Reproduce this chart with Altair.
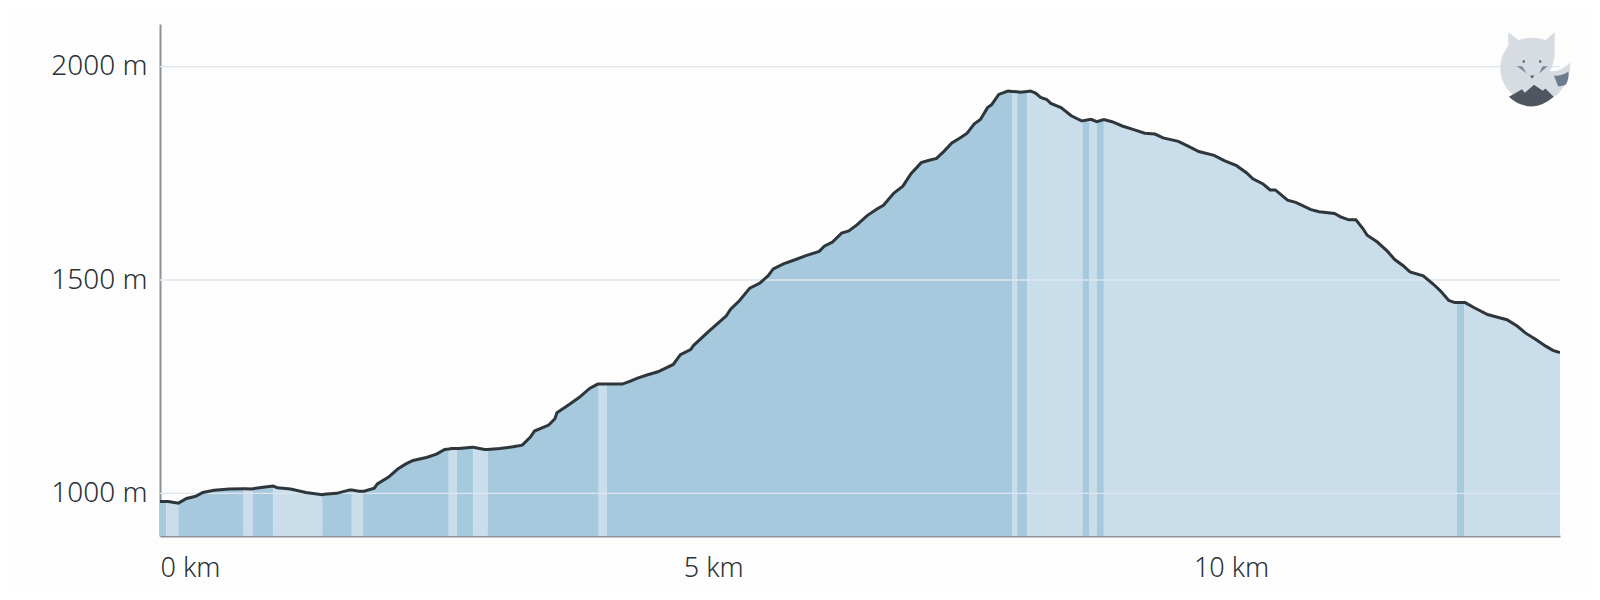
import altair as alt
import pandas as pd

dist_km = [0.00, 0.06, 0.08, 0.18, 0.26, 0.35, 0.42, 0.53, 0.68, 0.82, 0.83, 0.90, 0.91, 1.01, 1.11, 1.15, 1.28, 1.43, 1.59, 1.61,
           1.73, 1.86, 1.88, 1.95, 1.99, 2.00, 2.10, 2.13, 2.24, 2.33, 2.41, 2.48, 2.61, 2.71, 2.79, 2.83, 2.86, 2.91, 2.93, 3.06,
           3.07, 3.18, 3.21, 3.33, 3.46, 3.55, 3.63, 3.67, 3.81, 3.87, 3.89, 4.01, 4.11, 4.21, 4.29, 4.30, 4.38, 4.53, 4.61, 4.68,
           4.78, 4.88, 5.03, 5.10, 5.20, 5.23, 5.38, 5.55, 5.59, 5.68, 5.78, 5.88, 5.96, 6.01, 6.11, 6.23, 6.33, 6.46, 6.51, 6.59,
           6.68, 6.75, 6.83, 6.93, 7.03, 7.09, 7.19, 7.28, 7.36, 7.46, 7.53, 7.61, 7.68, 7.76, 7.84, 7.91, 7.98, 8.04, 8.11, 8.15,
           8.22, 8.31, 8.35, 8.40, 8.43, 8.50, 8.53, 8.58, 8.63, 8.69, 8.73, 8.83, 8.93, 9.03, 9.04, 9.11, 9.13, 9.18, 9.25, 9.33,
           9.43, 9.55, 9.65, 9.75, 9.83, 9.98, 10.08, 10.18, 10.33, 10.43, 10.55, 10.65, 10.71, 10.81, 10.88, 10.93, 11.05, 11.13, 11.28, 11.36,
           11.51, 11.57, 11.65, 11.72, 11.79, 11.83, 11.93, 12.03, 12.10, 12.18, 12.25, 12.38, 12.48, 12.55, 12.63, 12.69, 12.71, 12.78, 12.79, 12.88,
           13.01, 13.09, 13.20, 13.30, 13.38, 13.48, 13.58, 13.65, 13.72]
elev_m = [981, 981, 981, 977, 988, 993, 1002, 1007, 1010, 1011, 1011, 1010, 1011, 1014, 1017, 1013, 1010, 1002, 997, 998,
          1000, 1008, 1008, 1005, 1005, 1005, 1012, 1022, 1038, 1057, 1069, 1077, 1084, 1092, 1103, 1104, 1105, 1105, 1105, 1108,
          1108, 1103, 1103, 1105, 1109, 1113, 1132, 1146, 1160, 1175, 1189, 1208, 1225, 1246, 1256, 1256, 1256, 1256, 1263, 1270,
          1278, 1285, 1302, 1325, 1337, 1347, 1380, 1416, 1431, 1452, 1481, 1493, 1510, 1526, 1538, 1548, 1557, 1567, 1579, 1589,
          1610, 1615, 1629, 1651, 1667, 1675, 1703, 1720, 1749, 1775, 1780, 1785, 1801, 1821, 1833, 1844, 1866, 1876, 1904, 1911,
          1935, 1943, 1942, 1941, 1940, 1942, 1943, 1938, 1928, 1923, 1914, 1904, 1885, 1873, 1873, 1876, 1876, 1871, 1876, 1871,
          1861, 1852, 1844, 1842, 1833, 1825, 1813, 1801, 1792, 1780, 1768, 1751, 1737, 1725, 1711, 1711, 1687, 1682, 1665, 1660,
          1656, 1648, 1641, 1641, 1620, 1605, 1589, 1567, 1548, 1534, 1519, 1510, 1490, 1474, 1452, 1447, 1447, 1447, 1447, 1435,
          1419, 1414, 1407, 1392, 1376, 1361, 1345, 1335, 1330]

# stretches of the track drawn in the pale colour, everything else is dark
light_start = [0.06, 0.82, 1.11, 1.88, 2.83, 3.07, 4.30, 8.35, 8.50, 9.11, 9.25, 12.78]
light_end = [0.18, 0.91, 1.59, 1.99, 2.91, 3.21, 4.38, 8.40, 9.04, 9.18, 12.71, 13.72]

x_ticks = [0, 5, 10]
y_ticks = [1000, 1500, 2000]

# fox logo, paths in symbol units
logo_body = "M-.575,-.89 L-.325,-.7 Q0,-.82 .325,-.7 L.55,-.89 L.55,-.37 Q.53,-.1 .425,.05 Q.7,.08 .925,-.16 Q.95,.3 .6,.63 A.84,.84 0 0 1 -.68,-.4 Q-.62,-.5 -.575,-.56 Z"
logo_hills = "M-.56,.675 L-.24,.49 L-.175,.575 L.05,.38 L.26,.525 L.325,.47 L.525,.675 Q.27,.9 0,.91 Q-.33,.9 -.56,.675 Z"
logo_tail = "M.885,.06 Q.9,.25 .82,.38 Q.7,.43 .63,.41 L.53,.16 Q.75,.17 .885,.06 Z"
logo_cheeks = "M-.37,-.075 L-.23,-.06 L-.13,.11 Z M.385,-.075 L.25,-.06 L.175,.11 Z"
logo_face = "M-.23,-.18 A.03,.03 0 1 1 -.17,-.18 A.03,.03 0 1 1 -.23,-.18 Z M.17,-.18 A.03,.03 0 1 1 .23,-.18 A.03,.03 0 1 1 .17,-.18 Z M-.05,.16 L.06,.16 L0,.235 Z"

edges = sorted(set([0.0] + light_start + light_end + [13.72]))
rows = []
for b in range(len(edges) - 1):
    lo, hi = edges[b], edges[b + 1]
    kind = "light" if lo in light_start else "dark"
    for d, e in zip(dist_km, elev_m):
        if lo <= d <= hi:
            rows.append({"km": d, "m": e, "base": 900, "band": b, "kind": kind})
bands = pd.DataFrame(rows)
profile = pd.DataFrame({"km": dist_km, "m": elev_m})

x_scale = alt.Scale(domain=[0, 13.72], nice=False)
y_scale = alt.Scale(domain=[900, 2100], nice=False)

x_axis = alt.Axis(values=x_ticks, grid=False, ticks=False, title=None,
                  labelExpr="datum.value + ' km'", labelAlign="left",
                  labelOffset={"condition": {"test": "datum.value > 0", "value": 13}, "value": 0},
                  labelPadding=19, labelFontSize=27, labelFont="Noto Sans", labelFontWeight=300,
                  labelColor="#2b3236", labelOverlap=False, labelBound=False,
                  labelFlush=False, domainColor="#8c9297", domainWidth=2)
y_axis = alt.Axis(values=y_ticks, grid=False, ticks=False, title=None,
                  labelExpr="datum.value + ' m'", labelPadding=13, labelFontSize=28,
                  labelFont="Noto Sans", labelFontWeight=300, labelColor="#2b3236", labelOverlap=False,
                  domainColor="#8c9297", domainWidth=2)

area = (alt.Chart(bands).mark_area(clip=True, interpolate="linear")
        .encode(x=alt.X("km:Q", scale=x_scale, axis=x_axis),
                y=alt.Y("m:Q", stack=None, scale=y_scale, axis=y_axis),
                y2="base:Q",
                detail="band:N",
                color=alt.Color("kind:N", legend=None,
                                scale=alt.Scale(domain=["dark", "light"], range=["#a6c9de", "#c9deea"]))))

grid = (alt.Chart(pd.DataFrame({"m": y_ticks})).mark_rule(color="#dde6ee", strokeWidth=1.3)
        .encode(y=alt.Y("m:Q", scale=y_scale, axis=y_axis)))

line = (alt.Chart(profile).mark_line(color="#2f363b", strokeWidth=3, clip=True)
        .encode(x=alt.X("km:Q", scale=x_scale, axis=x_axis), y=alt.Y("m:Q", scale=y_scale, axis=y_axis)))


def logo_part(path, colour, alpha=1):
    return (alt.Chart(pd.DataFrame({"a": [0]}))
            .mark_point(shape=path, size=6800, filled=True, fill=colour, opacity=alpha, strokeWidth=0)
            .encode(x=alt.value(1372), y=alt.value(45)))


chart = (alt.layer(area, grid, line,
                   logo_part(logo_body, "#d4d9e1", 0.93),
                   logo_part(logo_hills, "#50565f"),
                   logo_part(logo_tail, "#6c7b8e"),
                   logo_part(logo_cheeks, "#7b8695"),
                   logo_part(logo_face, "#59626e"))
         .properties(width=1400, height=512, background="#fdfdfd",
                     padding={"left": 152, "top": 16, "right": 32, "bottom": 56},
                     autosize=alt.AutoSizeParams(type="none"))
         .configure_view(stroke=None))

chart.save("out.html", embed_options={"renderer": "svg", "actions": False})
